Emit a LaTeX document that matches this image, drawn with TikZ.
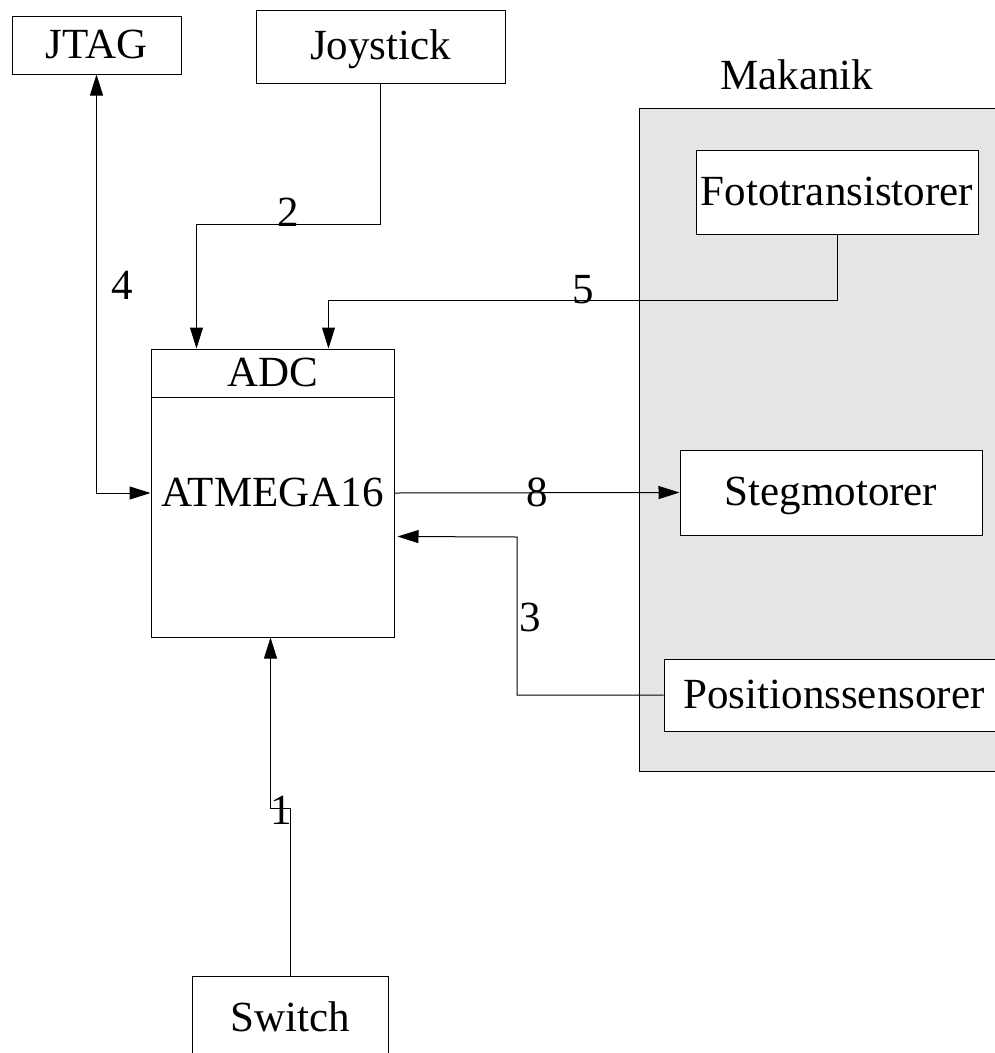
\documentclass[tikz,border=0pt]{standalone}
\usepackage{fontspec}
\setmainfont{Liberation Serif}
\usetikzlibrary{arrows.meta,calc}
\definecolor{mekgray}{RGB}{229,229,229}
\begin{document}
\begin{tikzpicture}[
    x=1pt, y=-1pt, line width=1pt,
    >={Triangle[length=21pt,width=13pt]},
    every node/.style={font=\fontsize{43}{50}\selectfont, inner sep=0pt},
    blk/.style={draw, fill=white, minimum width=#1, text height=34pt, text depth=8pt}
  ]
  \useasboundingbox (0,0) rectangle (995,1053);
  \fill[mekgray] (639,108) rectangle (1005,771);
  \draw (1005,108) -| (639,771) -- (1005,771);
  \node (mek) at (797,75) {Makanik};
  \node (jtag) [blk=169pt, minimum height=58pt] at (96.5,45) {JTAG};
  \node (joy) [blk=249pt, minimum height=73pt] at (380.5,46.5) {Joystick};
  \node (foto) [blk=282pt, minimum height=84pt] at (837,192) {Fototransistorer};
  \node (steg) [blk=302pt, minimum height=85pt] at (831,492.5) {Stegmotorer};
  \node (pos) [blk=340pt, minimum height=72pt] at (834,695) {Positionssensorer};
  \node (atm) [blk=243pt, minimum height=288pt] at (272.5,493) {ATMEGA16};
  \node (adc) [blk=243pt, minimum height=48pt] at (272.5,373) {ADC};
  \node (sw) [blk=196pt, minimum height=84pt] at (290,1018) {Switch};
  \draw[->] (joy.south) -- (joy.south |- 0,224) -| ($(adc.north west)+(46,0)$);
  \draw[->] (foto.south) -- (foto.south |- 0,300) -| ($(adc.north west)+(178,0)$);
  \draw[<->] (jtag.south) |- (atm.west);
  \draw[->] (atm.east) -- (steg.west);
  \draw[->] (pos.west) -| (517,537) -- ($(atm.north east)+(3,188)$);
  \draw[->] (sw.north) -- (sw.north |- 0,808) -| ($(atm.south)+(-2,0)$);
  \node (n1) at (281,810) {1};
  \node (n2) at (288,212) {2};
  \node (n3) at (530,617) {3};
  \node (n4) at (122,285) {4};
  \node (n5) at (583,290) {5};
  \node (n8) at (537,492) {8};
\end{tikzpicture}
\end{document}
